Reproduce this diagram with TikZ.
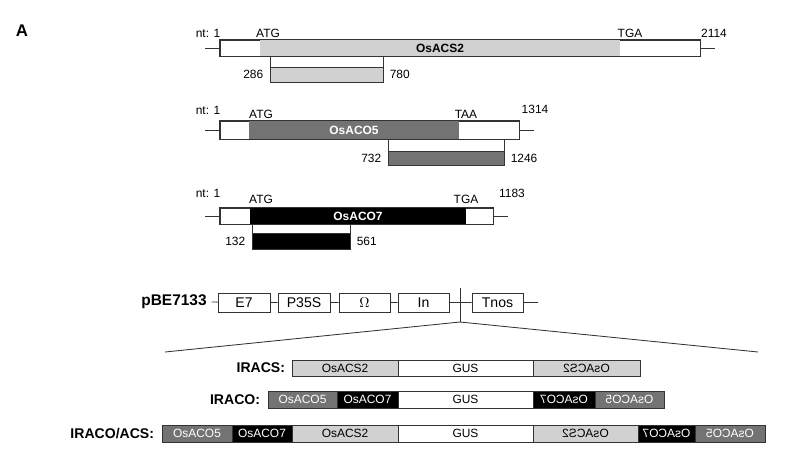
\documentclass[tikz,border=0pt]{standalone}
\usepackage{fontspec}
\setmainfont{Liberation Sans}
\usetikzlibrary{positioning, calc}

\definecolor{acsgray}{gray}{0.82}
\definecolor{acogray}{gray}{0.45}

% segment box: name, left x, right x, top y, bottom y, style
\newcommand{\segbox}[7]{%
  \node[seg, #6, minimum width={(#3-#2)*0.025cm}, minimum height={(#5-#4)*0.025cm}]
    (#1) at ({(#2+#3)/2},{(#4+#5)/2}) {#7};}

\begin{document}
\begin{tikzpicture}[x=0.025cm, y=-0.025cm, font=\fontsize{8.5}{9}\selectfont]
    \tikzset{seg/.style={rectangle, draw=black!80, line width=0.6pt, inner sep=0pt}}
    \tikzset{acs/.style={fill=acsgray}}
    \tikzset{aco5/.style={fill=acogray, text=white}}
    \tikzset{aco7/.style={fill=black, text=white}}
    \tikzset{wht/.style={fill=white}}
    \tikzset{vbox/.style={font=\fontsize{10}{10}\selectfont}}
    \tikzset{rowlab/.style={font=\fontsize{10}{10}\selectfont\bfseries, anchor=east}}
    \tikzset{tick/.style={draw=black!80, line width=0.6pt}}
    \useasboundingbox (0,0) rectangle (800,453);

    \node[font=\fontsize{12}{12}\selectfont\bfseries] (panel) at (22,31) {A};

    % OsACS2
    \segbox{acsbox}{220}{700}{40}{56}{wht}{}
    \segbox{acscds}{260}{620}{40}{56}{acs, draw=none}{\textbf{OsACS2}}
    \draw[tick] (acsbox.west) -- ++(-15,0) (acsbox.east) -- ++(15,0);
    \draw[tick] (acsbox.south west) rectangle (acsbox.north east);
    \segbox{acsup}{270}{383}{56}{67}{wht}{}
    \segbox{acsfrag}{270}{383}{67}{82}{acs}{}
    \node[left=1pt of acsfrag.west] (acsl) {286};
    \node[right=1pt of acsfrag.east] (acsr) {780};
    \node (acsnt) at (208,33) {nt: 1};
    \node (acsatg) at (268,33) {ATG};
    \node (acstga) at (630,33) {TGA};
    \node (acsend) at (714,33) {2114};

    % OsACO5
    \segbox{aco5box}{220}{519}{121}{139}{wht}{}
    \segbox{aco5cds}{249}{459}{121}{139}{aco5, draw=none}{\textbf{OsACO5}}
    \draw[tick] (aco5box.west) -- ++(-15,0) (aco5box.east) -- ++(15,0);
    \draw[tick] (aco5box.south west) rectangle (aco5box.north east);
    \segbox{aco5up}{388}{504}{139}{151}{wht}{}
    \segbox{aco5frag}{388}{504}{151}{165}{aco5}{}
    \node[left=1pt of aco5frag.west] (aco5l) {732};
    \node[right=1pt of aco5frag.east] (aco5r) {1246};
    \node (aco5nt) at (208,110) {nt: 1};
    \node (aco5atg) at (261,114) {ATG};
    \node (aco5taa) at (466,114) {TAA};
    \node (aco5end) at (535,109) {1314};

    % OsACO7
    \segbox{aco7box}{220}{493}{208}{224}{wht}{}
    \segbox{aco7cds}{250}{466}{208}{224}{aco7, draw=none}{\textbf{OsACO7}}
    \draw[tick] (aco7box.west) -- ++(-15,0) (aco7box.east) -- ++(15,0);
    \draw[tick] (aco7box.south west) rectangle (aco7box.north east);
    \segbox{aco7up}{252}{350}{224}{233}{wht}{}
    \segbox{aco7frag}{252}{350}{233}{249}{aco7}{}
    \node[left=1pt of aco7frag.west] (aco7l) {132};
    \node[right=1pt of aco7frag.east] (aco7r) {561};
    \node (aco7nt) at (208,193) {nt: 1};
    \node (aco7atg) at (261,199) {ATG};
    \node (aco7tga) at (466,199) {TGA};
    \node (aco7end) at (512,193) {1183};

    % pBE7133 vector
    \node[font=\fontsize{11}{11}\selectfont\bfseries] (vec) at (174,302) {pBE7133};
    \segbox{e7}{218}{270}{293}{312}{wht, vbox}{E7}
    \segbox{p35s}{278}{330}{293}{312}{wht, vbox}{P35S}
    \segbox{omega}{339}{390}{293}{312}{wht, vbox}{$\Omega$}
    \segbox{intr}{398}{449}{293}{312}{wht, vbox}{In}
    \segbox{tnos}{472}{523}{293}{312}{wht, vbox}{Tnos}
    \coordinate (vend) at (538,302.5);
    \draw[tick] (vec.east) -- (e7) (e7) -- (p35s) (p35s) -- (omega) (omega) -- (intr)
        (intr) -- (tnos) (tnos) -- (vend);
    \coordinate (sitetop) at (460,288);
    \coordinate (sitebot) at (460,322);
    \coordinate (fanl) at (165,352);
    \coordinate (fanr) at (758,352);
    \draw[tick] (sitetop) -- (sitebot);
    \draw[tick] (fanl) -- (sitebot) -- (fanr);

    % IRACS
    \node[rowlab] (iracs) at (290,368) {IRACS:};
    \segbox{racsa}{292}{398}{360}{376}{acs}{OsACS2}
    \segbox{racsg}{398}{533}{360}{376}{wht}{GUS}
    \segbox{racsb}{533}{640}{360}{376}{acs}{\scalebox{-1}[1]{OsACS2}}

    % IRACO
    \node[rowlab] (iraco) at (265,400) {IRACO:};
    \segbox{racoa}{268}{337}{391}{408}{aco5}{OsACO5}
    \segbox{racob}{337}{398}{391}{408}{aco7}{OsACO7}
    \segbox{racog}{398}{533}{391}{408}{wht}{GUS}
    \segbox{racoc}{533}{595}{391}{408}{aco7}{\scalebox{-1}[1]{OsACO7}}
    \segbox{racod}{595}{664}{391}{408}{aco5}{\scalebox{-1}[1]{OsACO5}}

    % IRACO/ACS
    \node[rowlab] (iracoacs) at (159,434) {IRACO/ACS:};
    \segbox{rboa}{162}{232}{425}{442}{aco5}{OsACO5}
    \segbox{rbob}{232}{292}{425}{442}{aco7}{OsACO7}
    \segbox{rboc}{292}{398}{425}{442}{acs}{OsACS2}
    \segbox{rbog}{398}{533}{425}{442}{wht}{GUS}
    \segbox{rbod}{533}{638}{425}{442}{acs}{\scalebox{-1}[1]{OsACS2}}
    \segbox{rboe}{638}{695}{425}{442}{aco7}{\scalebox{-1}[1]{OsACO7}}
    \segbox{rbof}{695}{765}{425}{442}{aco5}{\scalebox{-1}[1]{OsACO5}}
\end{tikzpicture}
\end{document}
